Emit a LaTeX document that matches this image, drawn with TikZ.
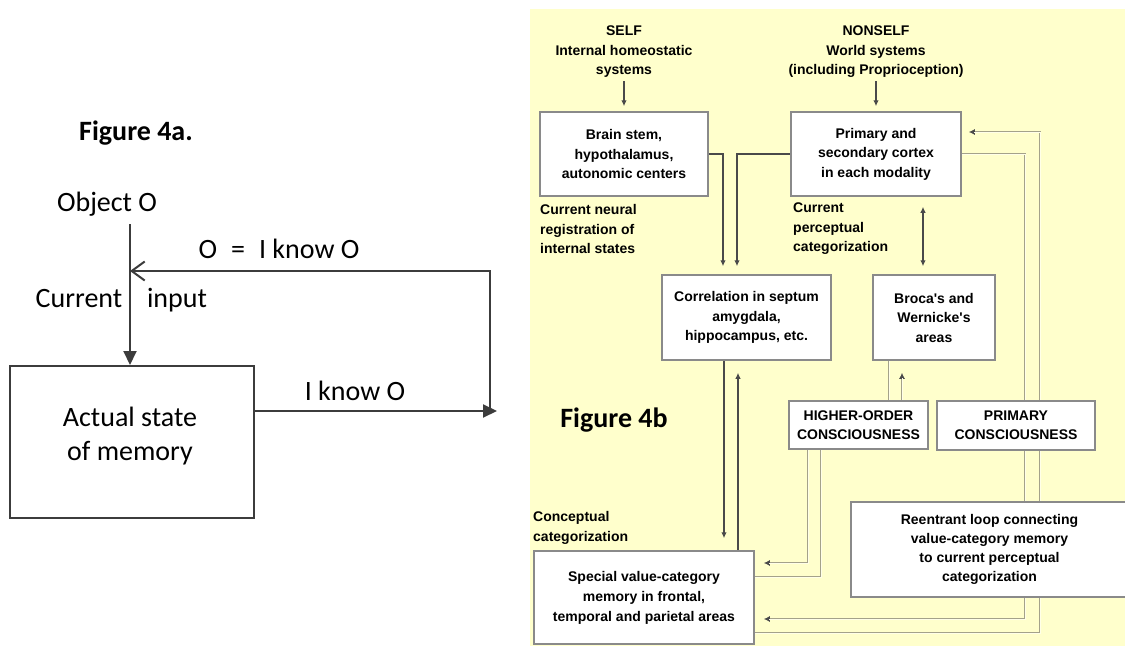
\documentclass[tikz,border=0pt]{standalone}
\usepackage{fontspec}
\setmainfont{Carlito}
\newfontfamily\pf{Liberation Sans}
\usetikzlibrary{arrows.meta,calc}
\definecolor{panelbg}{HTML}{FFFFCC}
\definecolor{boxline}{HTML}{8A8A8A}
\definecolor{darkln}{HTML}{4A4A4A}
\definecolor{memln}{HTML}{3C3C3C}
\definecolor{lightln}{HTML}{A4A28A}
\definecolor{lightfill}{HTML}{FFFFE8}
\pgfdeclarelayer{panel}
\pgfdeclarelayer{links}
\pgfsetlayers{panel,links,main}
\begin{document}
\begin{tikzpicture}[x=1pt,y=-1pt,
  big/.style={font=\fontsize{28}{34}\selectfont, inner sep=0pt},
  bigb/.style={font=\bfseries\fontsize{28}{34}\selectfont, inner sep=0pt},
  memline/.style={draw=memln, line width=2pt},
  pbox/.style={draw=boxline, line width=1.5pt, fill=white, align=center,
    font=\pf\bfseries\fontsize{14}{19.5}\selectfont, inner sep=0pt},
  ptext/.style={font=\pf\bfseries\fontsize{14}{19.5}\selectfont, align=center, inner sep=0pt},
  dk/.style={draw=darkln, line width=1.4pt},
  lt/.style={draw=lightln, line width=2.8pt, postaction={draw=lightfill, line width=1pt}},
  ltarr/.style 2 args={draw=lightln, line width=2.8pt, shorten >=#1,
    -{Latex[length=6pt,width=6pt,color=darkln]},
    postaction={draw=lightfill, line width=1pt, -, shorten >=#2}},
  tip/.style={-{Latex[length=6pt,width=5.5pt]}}
]
\useasboundingbox (0,0) rectangle (1125,646);
\begin{pgfonlayer}{panel}
\fill[panelbg] (530,9) rectangle (1125,646);
\end{pgfonlayer}

% ---------- Figure 4a ----------
\node[bigb] (fig4a) at (136,133) {Figure 4a.};
\node[big, anchor=base] (obj) at (107,211) {Object O};
\node[memline, minimum width=244pt, minimum height=152pt] (mem) at (132,442) {};
\node[big, align=center] (memtxt) at (130,436) {Actual state\\of memory};
\node[big, anchor=base] (fbl) at (279,258) {O\enspace=\enspace I know O};
\node[big, anchor=base] (cur) at (79,307) {Current};
\node[big, anchor=base] (inp) at (177,307) {input};
\node[big, anchor=base] (kn) at (355,400) {I know O};

\coordinate (objbot) at (130,224);
\coordinate (fbjoin) at (130,271);
\coordinate (loopR) at (490,411);
\coordinate (knowend) at (497,411);
\draw[memline, -{Triangle[length=14pt,width=13pt]}] (objbot) -- (objbot |- mem.north);
\draw[memline, -{Triangle[length=14pt,width=13pt]}] (mem.east |- knowend) -- (knowend);
\draw[memline, -{Straight Barb[length=13pt,width=19pt]}] (loopR) |- (fbjoin);

% ---------- Figure 4b ----------
\node[ptext] (selfh) at (624,52) {SELF\\Internal homeostatic\\systems};
\node[ptext] (nonself) at (876,52) {NONSELF\\World systems\\(including Proprioception)};
\node[pbox, minimum width=168pt, minimum height=84pt] (brain) at (624,154) {Brain stem,\\hypothalamus,\\autonomic centers};
\node[pbox, minimum width=170pt, minimum height=84pt] (prim) at (876,154) {Primary and\\secondary cortex\\in each modality};
\node[ptext, align=left, anchor=west] (regl) at (540,229) {Current neural\\registration of\\internal states};
\node[ptext, align=left, anchor=west] (percl) at (793,229) {Current\\perceptual\\categorization};
\node[pbox, minimum width=169pt, minimum height=85pt] (corr) at (746.5,317.5) {Correlation in septum\\amygdala,\\hippocampus, etc.};
\node[pbox, minimum width=122pt, minimum height=85pt] (broca) at (934,317.5) {Broca's and\\Wernicke's\\areas};
\node[bigb] (fig4b) at (614,420) {Figure 4b};
\node[pbox, minimum width=139pt, minimum height=48pt, font=\pf\bfseries\fontsize{14}{19}\selectfont] (higher) at (858.5,425) {HIGHER-ORDER\\CONSCIOUSNESS};
\node[pbox, minimum width=158pt, minimum height=49pt, font=\pf\bfseries\fontsize{14}{19}\selectfont] (primc) at (1016,425.5) {PRIMARY\\CONSCIOUSNESS};
\node[ptext, align=left, anchor=west] (concl) at (533,528) {Conceptual\\categorization};
\node[pbox, minimum width=220pt, minimum height=93pt, font=\pf\bfseries\fontsize{14}{20}\selectfont] (spec) at (644,597.5) {Special value-category\\memory in frontal,\\temporal and parietal areas};
\node[pbox, minimum width=277pt, minimum height=95pt, font=\pf\bfseries\fontsize{14}{19}\selectfont] (reent) at (989.5,549.5) {Reentrant loop connecting\\value-category memory\\to current perceptual\\categorization};

\coordinate (lpA) at (1025,619);
\coordinate (lpB) at (1040,132);

\begin{pgfonlayer}{links}
\draw[dk, tip, shorten >=5pt, shorten <=3pt] (selfh.south) -- (brain.north);
\draw[dk, tip, shorten >=5pt, shorten <=3pt] (nonself.south) -- (prim.north);
\draw[dk, tip, shorten >=8pt] (brain.east) -| ([xshift=-23.5pt]corr.north);
\draw[dk, tip, shorten >=8pt] (prim.west) -| ([xshift=-9.5pt]corr.north);
\draw[dk, {Latex[length=6pt,width=5.5pt]}-{Latex[length=6pt,width=5.5pt]}, shorten <=10pt, shorten >=8pt]
  ([xshift=-11pt]broca.north |- prim.south) -- ([xshift=-11pt]broca.north);
\draw[dk, tip, shorten >=12pt] ([xshift=-22.5pt]corr.south) -- ([xshift=-22.5pt]corr.south |- spec.north);
\draw[dk, tip, shorten >=12pt] ([xshift=-8.5pt]corr.south |- spec.north) -- ([xshift=-8.5pt]corr.south);
\draw[lt] ([xshift=30.5pt]higher.north) -- ([xshift=30.5pt]higher.north |- broca.south);
\draw[ltarr={12pt}{17pt}] ([xshift=43.5pt]higher.north) -- ([xshift=43.5pt]higher.north |- broca.south);
\draw[ltarr={9pt}{14pt}] ([xshift=-50.5pt]higher.south) |- ([yshift=34.5pt]spec.east);
\draw[lt] ([yshift=20.5pt]spec.east) -| ([xshift=-37.5pt]higher.south);
\draw[ltarr={9pt}{14pt}] (prim.east) -| (lpA) -- (spec.east |- lpA);
\draw[ltarr={7pt}{12pt}] ([yshift=-35.5pt]spec.east) -| (lpB) -- (prim.east |- lpB);
\end{pgfonlayer}
\end{tikzpicture}
\end{document}
